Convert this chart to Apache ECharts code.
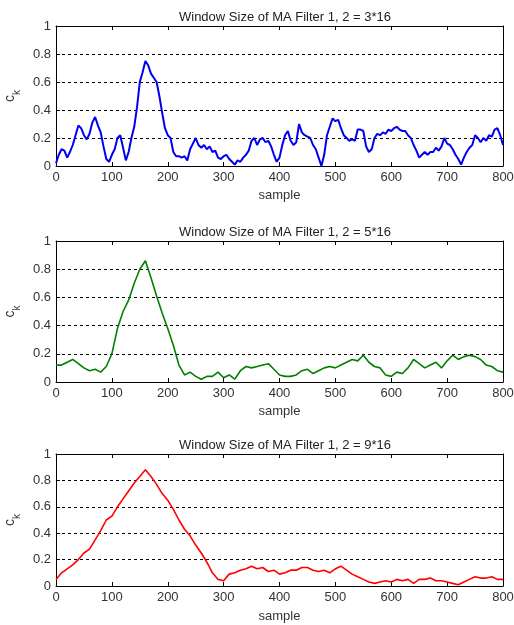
<!DOCTYPE html>
<html>
<head>
<meta charset="utf-8">
<script src="https://cdn.jsdelivr.net/npm/echarts@6/dist/echarts.min.js"></script>
<style>
html,body{margin:0;padding:0;background:#fff;}
#chart{width:514px;height:625px;}
</style>
</head>
<body>
<div id="chart"></div>
<script>
// ---- data ----
const titles = [
  'Window Size of MA Filter 1, 2 = 3*16',
  'Window Size of MA Filter 1, 2 = 5*16',
  'Window Size of MA Filter 1, 2 = 9*16'
];
const xTicks = [0,100,200,300,400,500,600,700,800];
const yTicks = [0,0.2,0.4,0.6,0.8,1];

const blueStep = 5;
const blueValues = [
  0.02,0.08,0.12,0.11,0.06,0.10,0.15,0.22,0.29,0.27,
  0.22,0.19,0.23,0.31,0.35,0.29,0.24,0.14,0.05,0.03,
  0.08,0.12,0.20,0.22,0.13,0.04,0.10,0.20,0.28,0.42,
  0.60,0.67,0.75,0.72,0.66,0.63,0.60,0.50,0.38,0.27,
  0.22,0.20,0.10,0.07,0.07,0.06,0.07,0.04,0.12,0.16,
  0.20,0.15,0.13,0.15,0.12,0.14,0.10,0.11,0.06,0.05,
  0.07,0.08,0.05,0.03,0.01,0.04,0.03,0.06,0.08,0.11,
  0.18,0.20,0.15,0.19,0.20,0.17,0.18,0.14,0.08,0.03,
  0.06,0.15,0.22,0.25,0.18,0.15,0.17,0.30,0.24,0.22,
  0.21,0.20,0.15,0.12,0.06,0.00,0.08,0.22,0.28,0.34,
  0.32,0.33,0.27,0.22,0.20,0.18,0.19,0.18,0.26,0.26,
  0.25,0.14,0.10,0.12,0.20,0.23,0.22,0.24,0.23,0.26,
  0.25,0.27,0.28,0.26,0.25,0.25,0.22,0.20,0.15,0.11,
  0.06,0.08,0.10,0.08,0.10,0.10,0.13,0.11,0.14,0.20,
  0.16,0.15,0.12,0.08,0.05,0.01,0.06,0.10,0.13,0.15,
  0.22,0.20,0.17,0.20,0.18,0.22,0.21,0.26,0.27,0.22,
  0.15
];

const greenStep = 10;
const greenValues = [
  0.12,0.12,0.14,0.16,0.13,0.10,0.08,0.09,0.07,0.11,
  0.20,0.38,0.50,0.58,0.70,0.80,0.86,0.74,0.61,0.49,
  0.38,0.26,0.12,0.05,0.07,0.04,0.02,0.04,0.04,0.07,
  0.03,0.05,0.02,0.08,0.11,0.10,0.11,0.12,0.13,0.09,
  0.05,0.04,0.04,0.05,0.08,0.09,0.06,0.08,0.10,0.11,
  0.10,0.12,0.14,0.16,0.15,0.19,0.14,0.11,0.10,0.05,
  0.04,0.07,0.06,0.10,0.16,0.13,0.10,0.12,0.14,0.10,
  0.15,0.19,0.16,0.18,0.19,0.18,0.16,0.12,0.11,0.08,
  0.07
];

const redStep = 10;
const redValues = [
  0.05,0.10,0.13,0.16,0.20,0.25,0.28,0.35,0.42,0.50,
  0.53,0.60,0.66,0.72,0.78,0.83,0.88,0.83,0.77,0.70,
  0.65,0.58,0.50,0.43,0.38,0.31,0.25,0.18,0.10,0.05,
  0.04,0.09,0.10,0.12,0.13,0.15,0.13,0.14,0.11,0.12,
  0.09,0.10,0.12,0.12,0.14,0.14,0.12,0.11,0.12,0.10,
  0.13,0.15,0.12,0.09,0.07,0.05,0.03,0.02,0.03,0.04,
  0.03,0.05,0.04,0.05,0.02,0.05,0.05,0.06,0.04,0.04,
  0.03,0.02,0.01,0.03,0.05,0.07,0.06,0.06,0.07,0.05,
  0.05
];

// ---- build ----
function pairs(step, vals){ return vals.map((v,i)=>[i*step, v]); }
const seriesData = [pairs(blueStep, blueValues), pairs(greenStep, greenValues), pairs(redStep, redValues)];
const colors = ['#0000f0', '#007f00', '#ff0000'];
const widths = [2, 1.6, 1.6];
const tops = [26, 241, 454];
const heights = [140, 141, 132];
const labelColor = '#333';
const font = 'Liberation Sans, Arial, sans-serif';

const grid = [], xAxis = [], yAxis = [], series = [], title = [];
tops.forEach((t, i) => {
  grid.push({left: 56, right: 11, top: t, height: heights[i], containLabel: false, outerBoundsMode: 'none'});
  title.push({
    text: titles[i], left: 280, top: t - 20, textAlign: 'center',
    textStyle: {fontFamily: font, fontSize: 13, fontWeight: 'normal', color: '#222'}
  });
  const lineStyle = {color: '#000', width: 1};
  xAxis.push({
    type: 'value', gridIndex: i, min: 0, max: 800, interval: 100, position: 'bottom',
    name: 'sample', nameLocation: 'middle', nameGap: i === 2 ? 24 : 23,
    nameTextStyle: {fontFamily: font, fontSize: 13, color: labelColor},
    axisLine: {show: true, onZero: false, lineStyle},
    axisTick: {show: true, inside: true, length: 4, lineStyle},
    axisLabel: {fontFamily: font, fontSize: 13, color: labelColor, margin: 5},
    splitLine: {show: false}
  });
  xAxis.push({
    type: 'value', gridIndex: i, min: 0, max: 800, interval: 100, position: 'top',
    axisLine: {show: true, onZero: false, lineStyle},
    axisTick: {show: true, inside: true, length: 4, lineStyle},
    axisLabel: {show: false}, splitLine: {show: false}
  });
  yAxis.push({
    type: 'value', gridIndex: i, min: 0, max: 1, interval: 0.2, position: 'left',
    name: '{c|c}{k|k}', nameLocation: 'middle', nameGap: 39, nameRotate: 90,
    nameTextStyle: {
      fontFamily: font, color: labelColor,
      rich: {
        c: {fontFamily: font, fontSize: 14, color: labelColor, lineHeight: 16, verticalAlign: 'bottom'},
        k: {fontFamily: font, fontSize: 10, color: labelColor, lineHeight: 16, verticalAlign: 'bottom', padding: [0,0,-5,0]}
      }
    },
    axisLine: {show: true, onZero: false, lineStyle},
    axisTick: {show: true, inside: true, length: 4, lineStyle},
    axisLabel: {fontFamily: font, fontSize: 13, color: labelColor, margin: 5,
      formatter: v => String(+v.toFixed(1))},
    splitLine: {show: true, lineStyle: {color: '#000', width: 1, type: [3, 3]}}
  });
  yAxis.push({
    type: 'value', gridIndex: i, min: 0, max: 1, interval: 0.2, position: 'right',
    axisLine: {show: true, onZero: false, lineStyle},
    axisTick: {show: true, inside: true, length: 4, lineStyle},
    axisLabel: {show: false}, splitLine: {show: false}
  });
  series.push({
    type: 'line', xAxisIndex: i * 2, yAxisIndex: i * 2,
    data: seriesData[i], showSymbol: false, symbol: 'none',
    lineStyle: {color: colors[i], width: widths[i]},
    animation: false, z: 3
  });
});

const chart = echarts.init(document.getElementById('chart'), null, {renderer: 'canvas'});
chart.setOption({backgroundColor: '#fff', animation: false, title, grid, xAxis, yAxis, series});
</script>
</body>
</html>
